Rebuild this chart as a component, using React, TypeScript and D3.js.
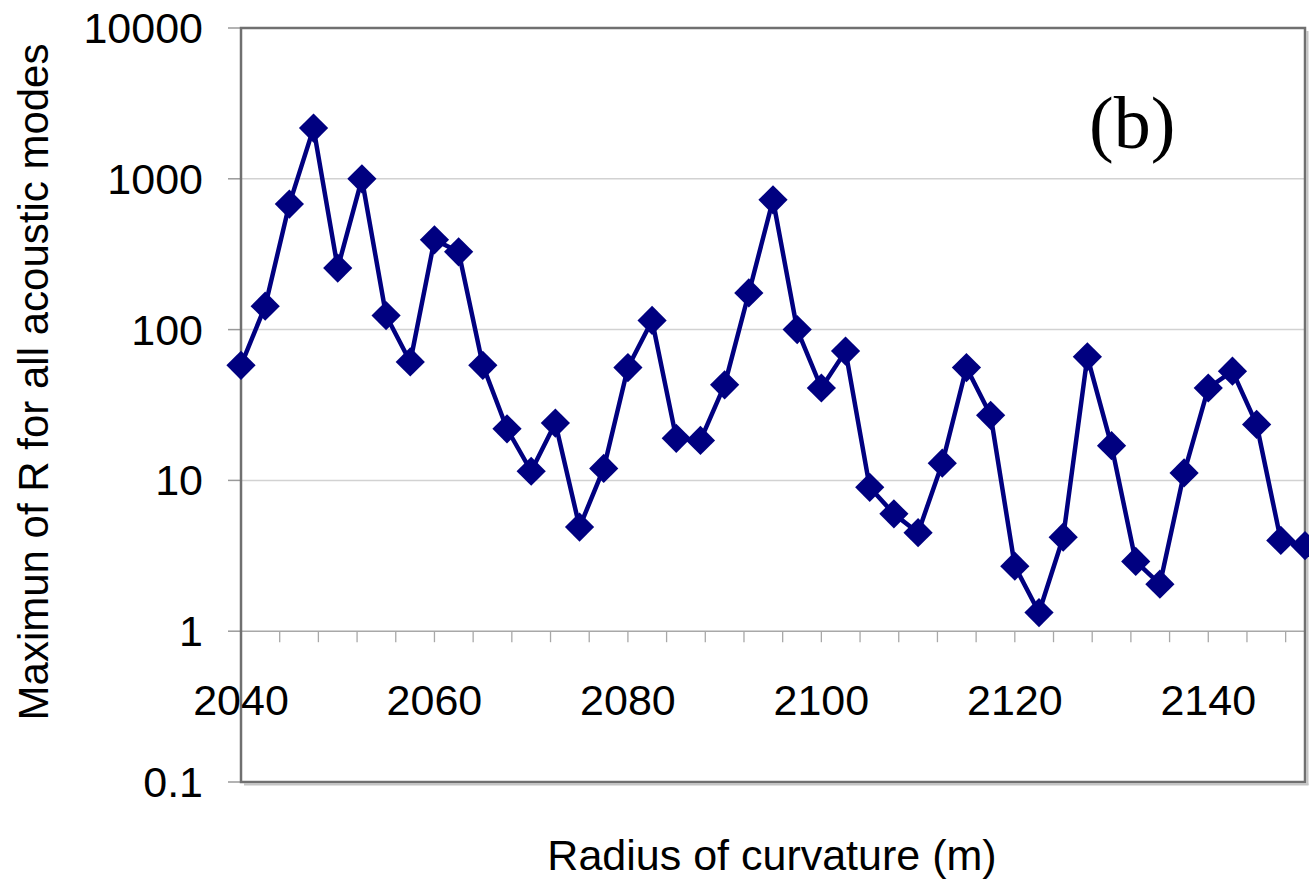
import React from "react";
import * as d3 from "d3";

// Radius of curvature (m) at each computed point
const radii: number[] = [
  2040, 2042.5, 2045, 2047.5, 2050, 2052.5, 2055, 2057.5, 2060, 2062.5,
  2065, 2067.5, 2070, 2072.5, 2075, 2077.5, 2080, 2082.5, 2085, 2087.5,
  2090, 2092.5, 2095, 2097.5, 2100, 2102.5, 2105, 2107.5, 2110, 2112.5,
  2115, 2117.5, 2120, 2122.5, 2125, 2127.5, 2130, 2132.5, 2135, 2137.5,
  2140, 2142.5, 2145, 2147.5, 2150,
];

// Maximum of R over all acoustic modes
const maxR: number[] = [
  58, 143, 680, 2170, 256, 1000, 124, 61, 394, 328,
  58, 22, 11.5, 24, 4.9, 12, 56, 115, 19, 18.4,
  43, 175, 726, 100, 41, 72, 9, 6, 4.5, 13,
  56, 27, 2.7, 1.33, 4.2, 66, 17, 2.9, 2.05, 11.2,
  41, 53, 23.5, 4.0, 3.7,
];

const yTickValues: number[] = [0.1, 1, 10, 100, 1000, 10000];
const yTickLabels: string[] = ["0.1", "1", "10", "100", "1000", "10000"];
const xLabelValues: number[] = [2040, 2060, 2080, 2100, 2120, 2140];
const xMinorTicks: number[] = [
  2044, 2048, 2052, 2056, 2060, 2064, 2068, 2072, 2076, 2080, 2084, 2088,
  2092, 2096, 2100, 2104, 2108, 2112, 2116, 2120, 2124, 2128, 2132, 2136,
  2140, 2144, 2148,
];

const W = 1309;
const H = 883;
const left = 241;
const right = 1305;
const top = 28;
const bottom = 782;

const FONT = "'Liberation Sans', Arial, sans-serif";
const NAVY = "#000080";

export default function App() {
  const x = d3.scaleLinear().domain([2040, 2150]).range([left, right]);
  const y = d3.scaleLog().domain([0.1, 10000]).range([bottom, top]);

  const pts: [number, number][] = radii.map((r, i) => [x(r), y(maxR[i])]);
  const line = d3.line<[number, number]>()(pts) ?? "";
  const half = 16.5;
  const diamond = d3.symbol().type(d3.symbolDiamond2).size(2 * half * half)() ?? "";
  const axisY = y(1);

  return (
    <svg
      width={W}
      height={H}
      style={{ position: "fixed", left: 0, top: 0, background: "#fff" }}
    >
      <rect x={0} y={0} width={W} height={H} fill="#fff" />

      {/* horizontal gridlines */}
      {yTickValues
        .filter((v) => v > 0.1 && v < 10000 && v !== 1)
        .map((v) => (
          <line
            key={`g${v}`}
            x1={left}
            x2={right}
            y1={y(v)}
            y2={y(v)}
            stroke="#d2d2d2"
            strokeWidth={1.5}
          />
        ))}

      {/* y ticks */}
      {yTickValues.map((v) => (
        <line
          key={`yt${v}`}
          x1={228}
          x2={left}
          y1={y(v)}
          y2={y(v)}
          stroke="#9a9a9a"
          strokeWidth={1.5}
        />
      ))}

      {/* x axis crossing at 1 */}
      <line x1={left} x2={right} y1={axisY} y2={axisY} stroke="#a8a8a8" strokeWidth={1.5} />
      {xMinorTicks.map((v) => (
        <line
          key={`xt${v}`}
          x1={x(v)}
          x2={x(v)}
          y1={axisY}
          y2={axisY + 11}
          stroke="#a8a8a8"
          strokeWidth={1.3}
        />
      ))}

      {/* plot frame with shadow */}
      <line x1={right + 2.5} x2={right + 2.5} y1={top + 3} y2={bottom + 3} stroke="#c4c4c4" strokeWidth={2} />
      <line x1={left + 3} x2={right + 3.5} y1={bottom + 2.5} y2={bottom + 2.5} stroke="#c4c4c4" strokeWidth={2} />
      <rect
        x={left}
        y={top}
        width={right - left}
        height={bottom - top}
        fill="none"
        stroke="#707070"
        strokeWidth={2.5}
      />

      {/* y tick labels */}
      {yTickValues.map((v, i) => (
        <text
          key={`yl${v}`}
          x={203}
          y={y(v) + 15}
          textAnchor="end"
          fontFamily={FONT}
          fontSize={43}
          fill="#000"
        >
          {yTickLabels[i]}
        </text>
      ))}

      {/* x tick labels */}
      {xLabelValues.map((v) => (
        <text
          key={`xl${v}`}
          x={x(v)}
          y={715}
          textAnchor="middle"
          fontFamily={FONT}
          fontSize={43}
          fill="#000"
        >
          {v}
        </text>
      ))}

      {/* series */}
      <path d={line} fill="none" stroke={NAVY} strokeWidth={4.5} strokeLinejoin="round" />
      {pts.map(([px, py], i) => (
        <path key={`m${i}`} d={diamond} transform={`translate(${px},${py})`} fill={NAVY} />
      ))}

      {/* panel label */}
      <text x={1089} y={148} fontFamily="'Liberation Serif', 'Times New Roman', serif" fontSize={74} fill="#000">
        (b)
      </text>

      {/* axis titles */}
      <text x={772} y={870} textAnchor="middle" fontFamily={FONT} fontSize={43} fill="#000">
        Radius of curvature (m)
      </text>
      <text
        transform="translate(48,382) rotate(-90)"
        textAnchor="middle"
        fontFamily={FONT}
        fontSize={42}
        fill="#000"
      >
        Maximun of R for all acoustic modes
      </text>
    </svg>
  );
}
